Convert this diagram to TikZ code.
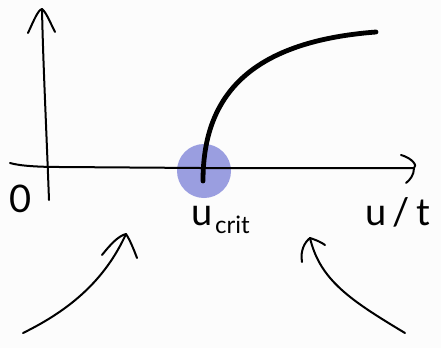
\documentclass[tikz,border=0pt]{standalone}
\usepackage{fontspec}
\setmainfont{Lato}
\definecolor{critblue}{RGB}{154,158,224}
\begin{document}
\begin{tikzpicture}[x=1pt,y=-1pt,
  axis/.style={line width=2pt,line cap=round,line join=round},
  hand/.style={line width=2pt,line cap=round,line join=round},
  curvestyle/.style={line width=4.8pt,line cap=round},
  lbl/.style={font=\fontsize{38}{38}\selectfont,inner sep=0pt},
  sublbl/.style={font=\fontsize{24}{24}\selectfont,inner sep=0pt}]
\useasboundingbox (0,0) rectangle (441,348);
\fill[white!99!black] (0,0) rectangle (441,348);
% critical point
\node[circle,fill=critblue,minimum size=54pt,inner sep=0pt] (crit) at (204,171) {};
% axes
\coordinate (yb) at (49,200);
\coordinate (yt) at (42,9);
\coordinate (xl) at (10,163);
\coordinate (xr) at (414,168);
\draw[axis] (yb) .. controls (46,120) and (43,60) .. (yt);
\draw[axis] (28,33) .. controls (34,20) and (38,10) .. (yt) .. controls (46,12) and (50,22) .. (55,32);
\draw[axis] (xl) .. controls (20,166) and (40,167) .. (60,167) -- (200,168) -- (xr);
\draw[axis] (401,155) .. controls (412,158) and (418,166) .. (xr) .. controls (414,175) and (410,180) .. (406,183);
% curve
\coordinate (cs) at (203,181);
\coordinate (ce) at (376,32);
\draw[curvestyle] (cs) .. controls (203,100) and (245,42) .. (ce);
% labels
\node[lbl] (zero) at (21,199) {0};
\node[lbl,anchor=base west] (ulab) at (191,225) {u};
\node[sublbl,anchor=base west] (crlab) at (215,233) {crit};
\node[lbl,anchor=base west] (ut) at (365,225) {u\,/\,t};
% bottom arrows
\coordinate (la) at (23,333);
\coordinate (lt) at (126,234);
\draw[hand] (la) .. controls (70,310) and (105,280) .. (lt);
\draw[hand] (102,255) .. controls (110,245) and (118,236) .. (lt) .. controls (130,240) and (134,250) .. (137,258);
\coordinate (ra) at (405,333);
\coordinate (rt) at (310,238);
\draw[hand] (ra) .. controls (350,300) and (320,280) .. (rt);
\draw[hand] (302,262) .. controls (300,250) and (305,242) .. (rt) .. controls (316,240) and (321,242) .. (325,245);
\end{tikzpicture}
\end{document}
